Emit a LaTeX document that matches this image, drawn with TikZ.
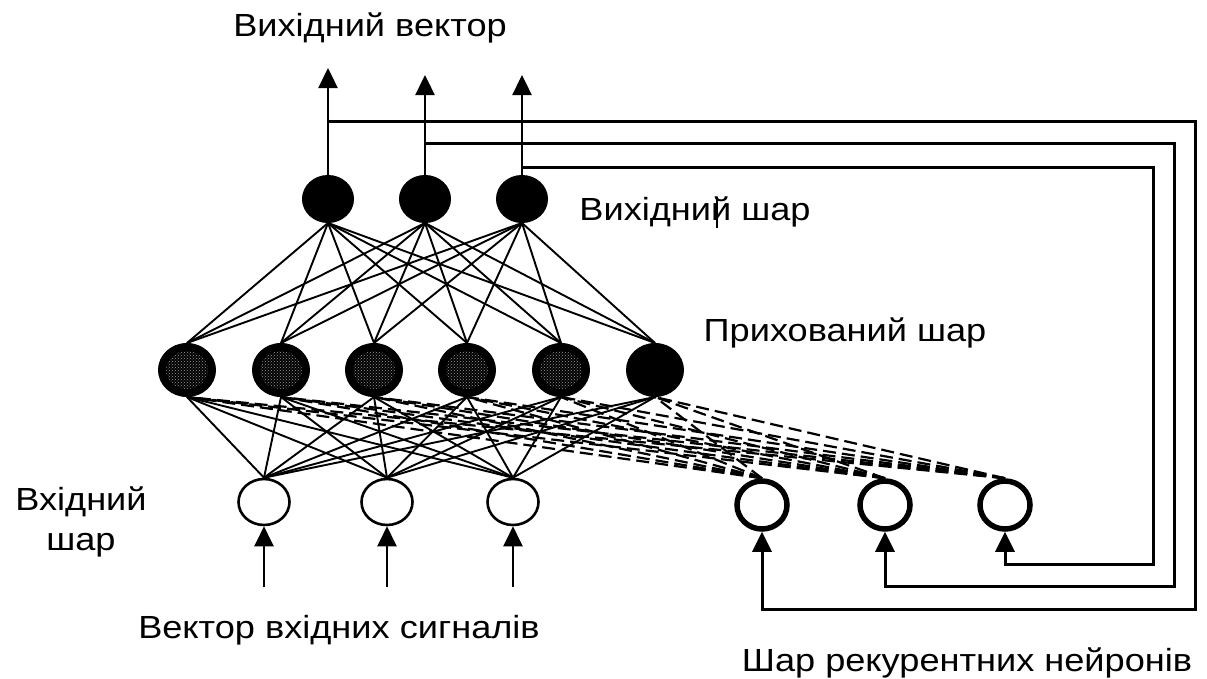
\documentclass[tikz,border=0pt]{standalone}
\usepackage{fontspec}
\setmainfont{Liberation Sans}[FakeStretch=1.13]
\usetikzlibrary{arrows.meta,shapes.geometric,patterns}

\begin{document}
\begin{tikzpicture}[x=1pt,y=-1pt,
  lbl/.style={font=\fontsize{32}{40}\selectfont, inner sep=0pt, align=center},
  outn/.style={ellipse, fill=black, draw=black, line width=1pt,
    minimum width=51pt, minimum height=47pt, inner sep=0pt},
  hidn/.style={ellipse, fill=black, draw=black, line width=1pt,
    minimum width=57pt, minimum height=53pt, inner sep=0pt},
  inn/.style={ellipse, draw=black, fill=white, line width=2.6pt,
    minimum width=51pt, minimum height=46pt, inner sep=0pt},
  recn/.style={ellipse, draw=black, fill=white, line width=5.5pt,
    minimum width=50pt, minimum height=48pt, inner sep=0pt},
  link/.style={line width=1.9pt},
  dlink/.style={line width=2.2pt, dash pattern=on 13pt off 6pt},
  fb/.style={line width=3pt},
  head/.style={-{Triangle[width=19pt,length=20pt]}},
  tip/.style={head, line width=2.4pt},
]
\useasboundingbox[fill=white] (0,0) rectangle (1207,678);

% layers of neurons
\foreach \n/\x in {1/328,2/425,3/522}
  \node[outn] (o\n) at (\x,199) {};
\foreach \n/\x in {1/187,2/281,3/374,4/467,5/561,6/655}
  \node[hidn] (h\n) at (\x,370) {};
\foreach \n in {1,...,5}
  \path[pattern=crosshatch dots, pattern color=gray!80] (h\n) ellipse [x radius=21pt, y radius=19pt];
\foreach \n/\x in {1/264,2/387,3/513}
  \node[inn] (i\n) at (\x,502) {};
\foreach \n/\x in {1/762,2/885,3/1005}
  \node[recn] (r\n) at (\x,505) {};

% weighted connections
\foreach \a in {1,2,3}
  \foreach \b in {1,...,6} {
    \draw[link] (i\a.north) -- (h\b.south);
    \draw[link] (h\b.north) -- (o\a.south);
    \draw[dlink] (r\a.north) -- (h\b.south);
  }

% outputs
\coordinate (a1) at (328,68);
\coordinate (a2) at (425,75);
\coordinate (a3) at (522,75);
\foreach \n in {1,2,3}
  \draw[tip] (o\n.north) -- (a\n);

% inputs
\foreach \n/\x in {1/264,2/387,3/513} {
  \coordinate (s\n) at (\x,587);
  \draw[tip] (s\n) -- (i\n.south);
}

% feedback from the output layer to the recurrent neurons
\coordinate (j1) at (328,121);
\coordinate (j2) at (425,143);
\coordinate (j3) at (522,167);
\coordinate (k1) at (1195,609);
\coordinate (k2) at (1174,586);
\coordinate (k3) at (1153,564);
\foreach \n in {1,2,3}
  \draw[fb,head] (j\n) -| (k\n) -| (r\n.south);

% labels
\node[lbl] (t1) at (370,28) {Вихідний вектор};
\node[lbl] (t2) at (695,212) {Вихідний шар};
\node[lbl] (t3) at (845,333) {Прихований шар};
\node[lbl] (t4) at (81,522) {Вхідний\\шар};
\node[lbl] (t5) at (339,630) {Вектор вхідних сигналів};
\node[lbl] (t6) at (967,663) {Шар рекурентних нейронів};
\draw[line width=1.3pt] (717,197) -- (717,228);
\end{tikzpicture}
\end{document}
